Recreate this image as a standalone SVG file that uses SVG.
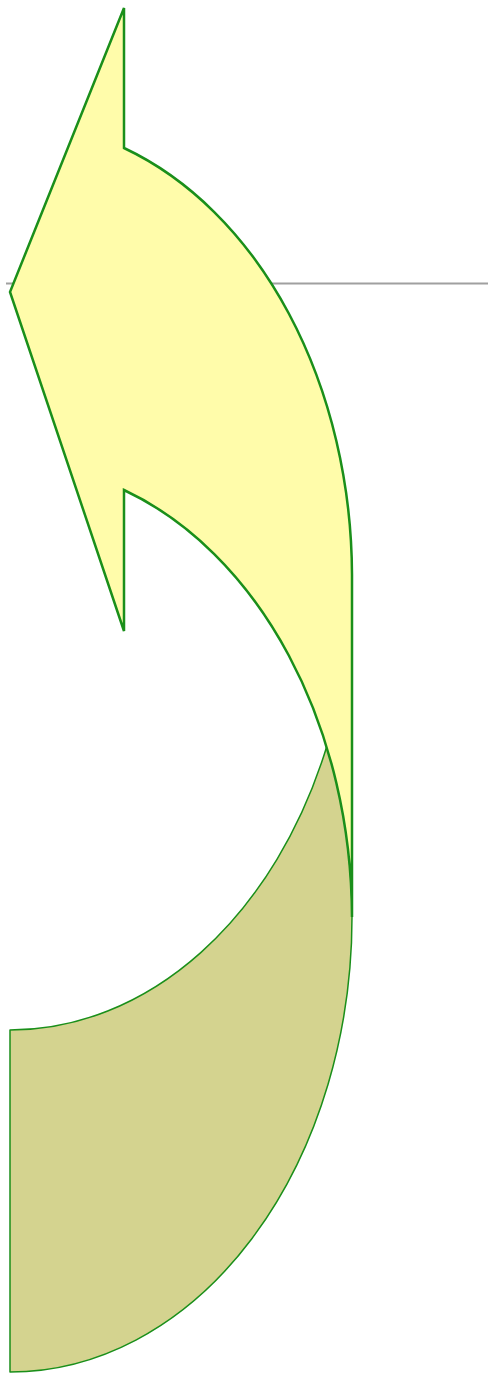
<svg xmlns="http://www.w3.org/2000/svg" width="493" height="1379" viewBox="0 0 493 1379">
  <style>
    .shade { fill: #d4d38f; stroke: #1a8f1a; stroke-width: 1.5; stroke-linejoin: round; }
    .main { fill: #fffcaa; stroke: #1a8f1a; stroke-width: 2.5; stroke-linejoin: miter; }
    .guide { stroke: #a0a0a0; stroke-width: 2; fill: none; }
  </style>
  <g id="guide-line">
    <line class="guide" x1="6" y1="283.5" x2="488" y2="283.5"/>
  </g>
  <g id="curved-arrow">
    <path id="arrow-shade" class="shade" d="M10,1030 A342,455 0 0,0 326.9,746 A342,455 0 0,1 352,917 A342,455 0 0,1 10,1372 Z"/>
    <path id="arrow-body" class="main" d="M352,917 L352,575 A342,455 0 0,0 124,148 L124,8 L10,292 L124,631 L124,490 A342,455 0 0,1 352,917 Z"/>
  </g>
</svg>
